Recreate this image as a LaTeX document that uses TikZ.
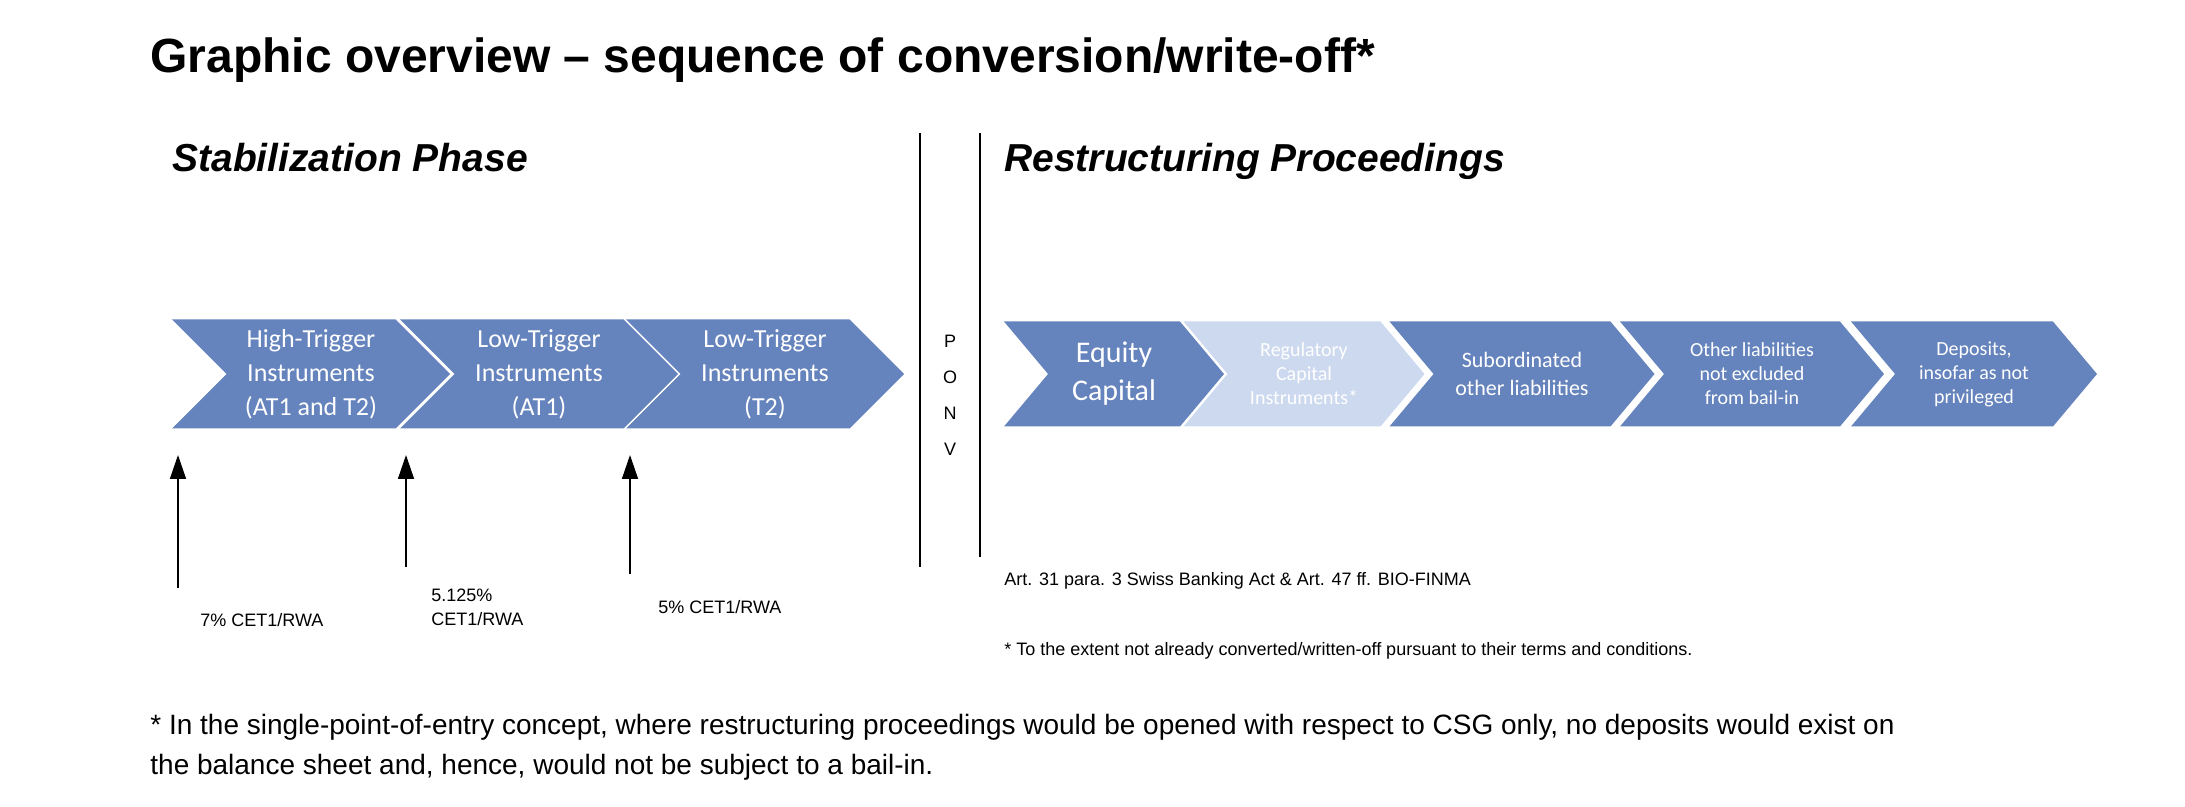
\documentclass[tikz,border=0pt]{standalone}
\usepackage{fontspec}
\setmainfont{Liberation Sans}
\newfontfamily\calib{Carlito}
\usetikzlibrary{shapes.symbols,arrows.meta}
\definecolor{chevblue}{HTML}{6583BC}
\definecolor{chevlight}{HTML}{CDD9EF}

\begin{document}
\begin{tikzpicture}[x=0.5pt,y=-0.5pt,
    chev/.style={signal, signal to=east, signal from=west, fill=chevblue,
      draw=none, inner sep=0pt, text=white, align=center, font=\calib},
    lchev/.style={chev, minimum width=139pt, minimum height=54.5pt,
      signal pointer angle=90, font=\calib\fontsize{13}{17}\selectfont},
    rchev/.style={chev, minimum height=52.5pt, signal pointer angle=100,
      font=\calib\fontsize{10}{12}\selectfont},
    small/.style={anchor=base west, inner sep=0pt, font=\fontsize{9}{12}\selectfont},
    trig/.style={-{Triangle[length=12pt,width=8pt]}, line width=0.8pt},
    >=stealth]
    \useasboundingbox (0,0) rectangle (2185,807);
    \node[anchor=base west, inner sep=0pt, font=\bfseries\fontsize{24}{28}\selectfont]
      (title) at (150,73) {Graphic overview -- sequence of conversion/write-off*};
    \node[anchor=base west, inner sep=0pt, font=\bfseries\itshape\fontsize{19.5}{24}\selectfont]
      (stab) at (172,172) {Stabilization Phase};
    \node[anchor=base west, inner sep=0pt, font=\bfseries\itshape\fontsize{19.5}{24}\selectfont]
      (restr) at (1004,172) {Restructuring Proceedings};
    % separators
    \coordinate (s1t) at (920,133); \coordinate (s1b) at (920,567);
    \coordinate (s2t) at (980,133); \coordinate (s2b) at (980,557);
    \draw[line width=1pt] (s1t) -- (s1b);
    \draw[line width=1pt] (s2t) -- (s2b);
    \node[align=center, inner sep=0pt, font=\fontsize{9}{18}\selectfont]
      (ponv) at (950,395) {P\\O\\N\\V};
    % stabilization chevrons
    \node[lchev] (high) at (311,374) {High-Trigger\\Instruments\\(AT1 and T2)};
    \node[lchev] (lowa) at (539,374) {Low-Trigger\\Instruments\\(AT1)};
    \node[lchev] (lowb) at (765,374) {Low-Trigger\\Instruments\\(T2)};
    % restructuring chevrons
    \node[rchev, minimum width=110pt, font=\calib\fontsize{15}{19}\selectfont]
      (equity) at (1114,374) {Equity\\Capital};
    \node[rchev, minimum width=120.5pt, fill=chevlight] (reg) at (1304,374)
      {Regulatory\\Capital\\Instruments*};
    \node[rchev, minimum width=132.5pt, font=\calib\fontsize{11}{14}\selectfont]
      (subord) at (1522,374) {Subordinated\\other liabilities};
    \node[rchev, minimum width=132pt] (other) at (1752,374)
      {Other liabilities\\not excluded\\from bail-in};
    \node[rchev, minimum width=123pt] (depos) at (1974,374)
      {Deposits,\\insofar as not\\privileged};
    % triggers
    \coordinate (t1) at (178,588); \coordinate (h1) at (178,455);
    \coordinate (t2) at (406,567); \coordinate (h2) at (406,455);
    \coordinate (t3) at (630,574); \coordinate (h3) at (630,455);
    \draw[trig] (t1) -- (h1);
    \draw[trig] (t2) -- (h2);
    \draw[trig] (t3) -- (h3);
    \node[small] (lab1) at (200,626) {7\% CET1/RWA};
    \node[small, align=left, anchor=north west] (lab2) at (431,589) {5.125\%\\CET1/RWA};
    \node[small] (lab3) at (658,613) {5\% CET1/RWA};
    \node[small] (art) at (1004,585) {Art. 31 para. 3 Swiss Banking Act \& Art. 47 ff. BIO-FINMA};
    \node[small] (note) at (1004,655) {* To the extent not already converted/written-off pursuant to their terms and conditions.};
    \node[anchor=north west, inner sep=0pt, align=left, font=\fontsize{14}{20}\selectfont]
      (foot) at (150,714) {* In the single-point-of-entry concept, where restructuring proceedings would be opened with respect to CSG only, no deposits would exist on\\the balance sheet and, hence, would not be subject to a bail-in.};
\end{tikzpicture}
\end{document}
